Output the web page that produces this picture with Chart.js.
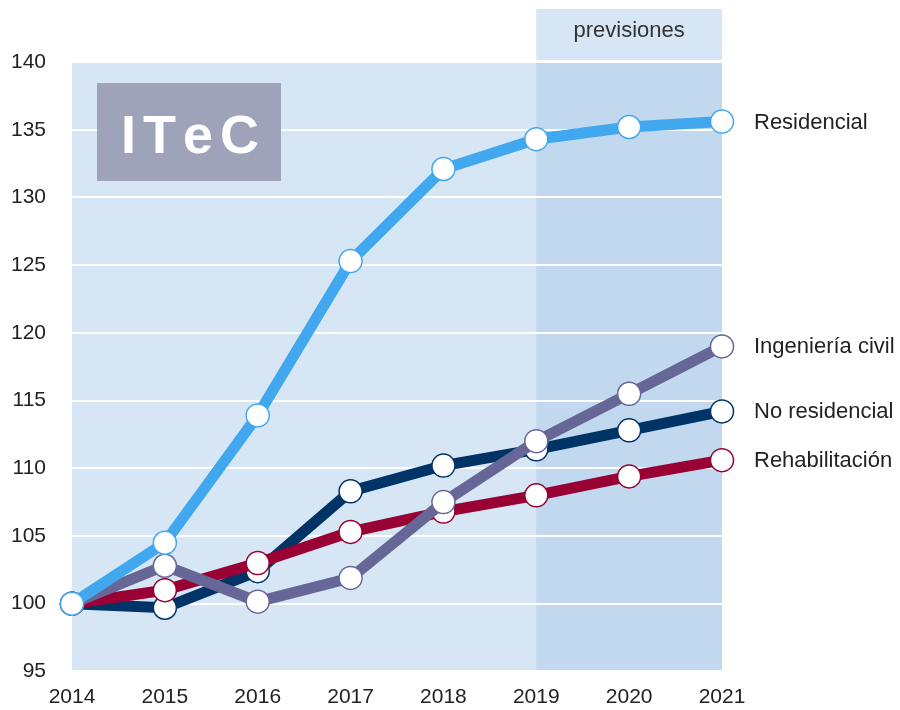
<!DOCTYPE html>
<html>
<head>
<meta charset="utf-8">
<script src="https://cdn.jsdelivr.net/npm/chart.js@4.4.0/dist/chart.umd.min.js"></script>
<style>
  html, body { margin: 0; padding: 0; background: #fff; }
  #wrap { width: 900px; height: 710px; }
</style>
</head>
<body>
<div id="wrap"><canvas id="chart"></canvas></div>
<script>
const years = ['2014', '2015', '2016', '2017', '2018', '2019', '2020', '2021'];
const forecastFrom = '2019';

const residencial = [100, 104.5, 113.9, 125.3, 132.1, 134.3, 135.2, 135.6];
const ingenieriaCivil = [100, 102.8, 100.15, 101.9, 107.5, 112.0, 115.5, 119.0];
const rehabilitacion = [100, 101.0, 103.0, 105.3, 106.8, 108.0, 109.4, 110.6];
const noResidencial = [100, 99.7, 102.4, 108.3, 110.2, 111.4, 112.8, 114.2];

const FONT = '"Liberation Sans", Arial, sans-serif';

const series = [
  { label: 'Residencial', data: residencial, color: '#41a7ee' },
  { label: 'Ingeniería civil', data: ingenieriaCivil, color: '#666796' },
  { label: 'Rehabilitación', data: rehabilitacion, color: '#990033' },
  { label: 'No residencial', data: noResidencial, color: '#003366' },
];

// fondo y franja de previsiones
const backdrop = {
  id: 'backdrop',
  beforeDraw(chart) {
    const { ctx, chartArea: a, scales: { x } } = chart;
    const fx = x.getPixelForValue(years.indexOf(forecastFrom));
    ctx.save();
    ctx.fillStyle = '#d6e6f5';
    ctx.fillRect(a.left, a.top, a.right - a.left, a.bottom - a.top);
    ctx.fillStyle = '#c1d8ee';
    ctx.fillRect(fx, a.top, a.right - fx, a.bottom - a.top);
    ctx.fillStyle = '#d6e6f5';
    ctx.fillRect(fx, 9, a.right - fx, a.top - 11);
    ctx.fillStyle = '#333';
    ctx.font = '22px ' + FONT;
    ctx.textAlign = 'center';
    ctx.textBaseline = 'middle';
    ctx.fillText('previsiones', (fx + a.right) / 2, 31);
    ctx.restore();
  },
  // logo ITeC por encima de la rejilla
  beforeDatasetsDraw(chart) {
    const { ctx } = chart;
    ctx.save();
    ctx.fillStyle = '#9ea3b9';
    ctx.fillRect(97, 83, 184, 98);
    ctx.fillStyle = '#fff';
    ctx.font = 'bold 54px ' + FONT;
    ctx.textAlign = 'left';
    ctx.textBaseline = 'alphabetic';
    let cx = 121;
    for (const ch of 'ITeC') {
      ctx.fillText(ch, cx, 153);
      cx += ctx.measureText(ch).width + 7;
    }
    ctx.restore();
  }
};

// etiquetas de serie a la derecha
const endLabels = {
  id: 'endLabels',
  afterDatasetsDraw(chart) {
    const { ctx, chartArea: a } = chart;
    ctx.save();
    ctx.fillStyle = '#222';
    ctx.font = '22px ' + FONT;
    ctx.textAlign = 'left';
    ctx.textBaseline = 'middle';
    chart.data.datasets.forEach((ds, i) => {
      const pts = chart.getDatasetMeta(i).data;
      const last = pts[pts.length - 1];
      ctx.fillText(ds.label, a.right + 32, last.y + 1);
    });
    ctx.restore();
  }
};

new Chart(document.getElementById('chart'), {
  type: 'line',
  data: {
    labels: years,
    datasets: series.map(s => ({
      label: s.label,
      data: s.data,
      borderColor: s.color,
      borderWidth: 11,
      pointRadius: 11.5,
      pointBackgroundColor: '#fff',
      pointBorderColor: s.color,
      pointBorderWidth: 1.5,
      tension: 0,
    })),
  },
  options: {
    responsive: true,
    maintainAspectRatio: false,
    animation: false,
    layout: { padding: { top: 62, right: 178, left: 0, bottom: 0 } },
    plugins: {
      legend: { display: false },
      tooltip: { enabled: false },
    },
    scales: {
      x: {
        offset: false,
        grid: { display: false },
        border: { display: false },
        ticks: { color: '#222', font: { family: FONT, size: 21 }, padding: 5, maxRotation: 0 },
        afterFit(scale) { scale.height = 38; },
      },
      y: {
        min: 95,
        max: 140,
        grid: { color: '#ffffff', lineWidth: 2, drawTicks: false },
        border: { display: false },
        ticks: { stepSize: 5, color: '#222', font: { family: FONT, size: 21 }, padding: 26 },
        afterFit(scale) { scale.width = 72; },
      },
    },
  },
  plugins: [backdrop, endLabels],
});
</script>
</body>
</html>
